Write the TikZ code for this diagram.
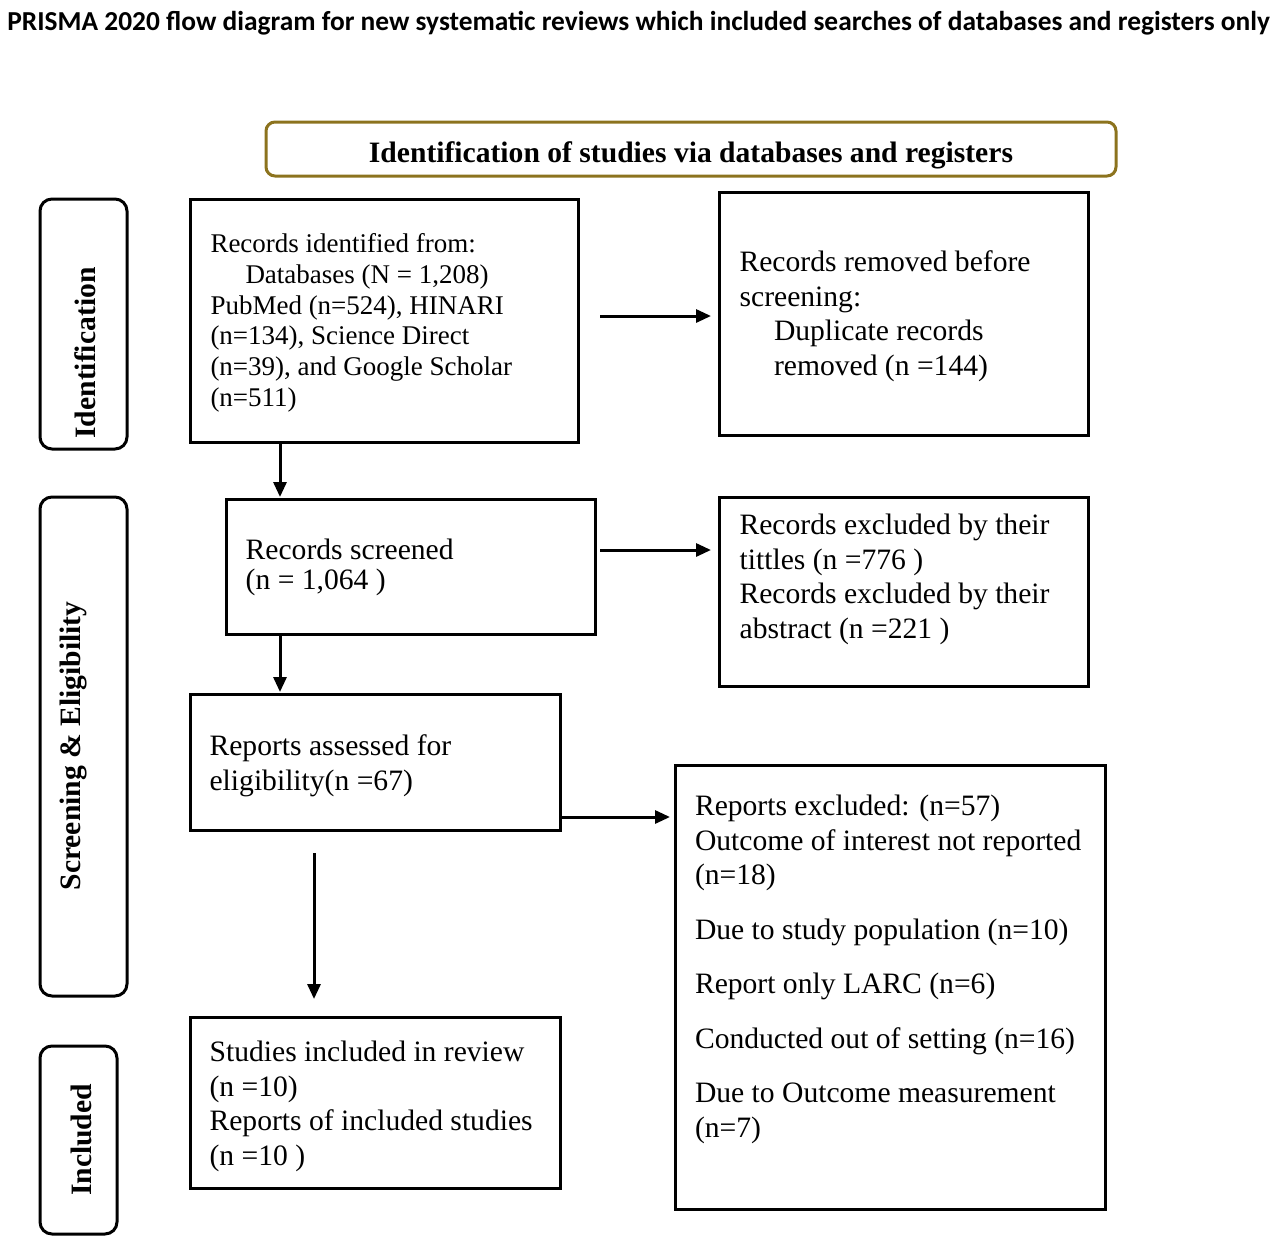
\documentclass[tikz,border=0pt]{standalone}
\usepackage{fontspec}
\setmainfont{Liberation Serif}
\newfontfamily\titlefont{Carlito}
\usetikzlibrary{arrows.meta}
\definecolor{gold}{RGB}{140,115,30}
\begin{document}
\begin{tikzpicture}[x=0.5pt,y=-0.5pt,
  box/.style={draw=black, line width=1.5pt, rectangle, inner sep=0pt, outer sep=0pt, anchor=north west},
  side/.style={draw=black, line width=1.5pt, rectangle, rounded corners=6pt, inner sep=0pt, outer sep=0pt, anchor=north west},
  head/.style={draw=gold, line width=1.5pt, rectangle, rounded corners=4.5pt, inner sep=0pt, outer sep=0pt, anchor=north west},
  txt/.style={inner sep=0pt, outer sep=0pt, align=left, anchor=base west, font=\fontsize{14.8}{17.25}\selectfont},
  txta/.style={txt, font=\fontsize{13.5}{15.4}\selectfont},
  sidetxt/.style={inner sep=0pt, outer sep=0pt, anchor=base, rotate=90, font=\fontsize{14.8}{17.25}\selectfont\bfseries},
  arr/.style={draw=black, line width=1.5pt, -{Triangle[length=7.5pt,width=6.5pt]}}
]
\useasboundingbox (0,0) rectangle (1280,1242);

% title
\node[inner sep=0pt, anchor=base west, font=\titlefont\fontsize{13.7}{16}\selectfont\bfseries] (title) at (7,30)
  {PRISMA 2020 flow diagram for new systematic reviews which included searches of databases and registers only};

% header
\node[head, minimum width=425pt, minimum height=27pt] (H) at (266,122) {};
\node[inner sep=0pt, anchor=base, font=\fontsize{14.8}{17.25}\selectfont\bfseries] (Ht) at (691,162.5)
  {Identification of studies via databases and registers};

% side labels
\node[side, minimum width=43.5pt, minimum height=125pt] (S1) at (40,199) {};
\node[sidetxt] (S1t) at (95,353) {Identification};
\node[side, minimum width=43.5pt, minimum height=249.5pt] (S2) at (40,497) {};
\node[sidetxt] (S2t) at (80,746) {Screening \& Eligibility};
\node[side, minimum width=38.5pt, minimum height=94pt] (S3) at (40,1046) {};
\node[sidetxt] (S3t) at (91,1140) {Included};

% boxes (text nodes anchored at the baseline of their last line)
\node[box, minimum width=194pt, minimum height=121.5pt] (A) at (190,199) {};
\node[txta] (At) at (210.5,406.5) {Records identified from:\\\hspace*{17.5pt}Databases (N = 1,208)\\PubMed (n=524), HINARI\\(n=134), Science Direct\\(n=39), and Google Scholar\\(n=511)};

\node[box, minimum width=184.5pt, minimum height=121.5pt] (B) at (719,192) {};
\node[txt] (Bt) at (739.6,375.4) {Records removed before\\screening:\\\hspace*{17.2pt}Duplicate records\\\hspace*{17.2pt}removed (n =144)};

\node[box, minimum width=184.5pt, minimum height=67.5pt] (C) at (226,499) {};
\node[txt, font=\fontsize{14.8}{15.3}\selectfont] (Ct) at (245.7,589.6) {Records screened\\(n = 1,064 )};

\node[box, minimum width=184.5pt, minimum height=94.5pt] (D) at (719,497) {};
\node[txt] (Dt) at (739.6,638.2) {Records excluded by their\\tittles (n =776 )\\Records excluded by their\\abstract (n =221 )};

\node[box, minimum width=185pt, minimum height=68pt] (E) at (190,694) {};
\node[txt] (Et) at (209.6,790) {Reports assessed for\\eligibility(n =67)};

\node[box, minimum width=215pt, minimum height=222pt] (F) at (675,765) {};
\node[txt] (Ft) at (695,1137) {Reports excluded: (n=57)\\Outcome of interest not reported\\(n=18)\\[10pt]Due to study population (n=10)\\[10pt]Report only LARC (n=6)\\[10pt]Conducted out of setting (n=16)\\[10pt]Due to Outcome measurement\\(n=7)};

\node[box, minimum width=185pt, minimum height=85.5pt] (G) at (190,1017) {};
\node[txt] (Gt) at (209.6,1165) {Studies included in review\\(n =10)\\Reports of included studies\\(n =10 )};

% connector coordinates
\coordinate (yAB) at (0,316);
\coordinate (yCD) at (0,550);
\coordinate (yEF) at (0,817);
\coordinate (xAC) at (280,0);
\coordinate (xEG) at (314,0);

\draw[arr, shorten <=11pt, shorten >=4pt] (A.east |- yAB) -- (B.west |- yAB);
\draw[arr, shorten >=1pt] (A.south -| xAC) -- (C.north -| xAC);
\draw[arr, shorten <=2.5pt, shorten >=4pt] (C.east |- yCD) -- (D.west |- yCD);
\draw[arr, shorten >=1pt] (C.south -| xAC) -- (E.north -| xAC);
\draw[arr, shorten >=2.5pt] (E.east |- yEF) -- (F.west |- yEF);
\draw[arr, shorten <=11.5pt, shorten >=9pt] (E.south -| xEG) -- (G.north -| xEG);
\end{tikzpicture}
\end{document}
